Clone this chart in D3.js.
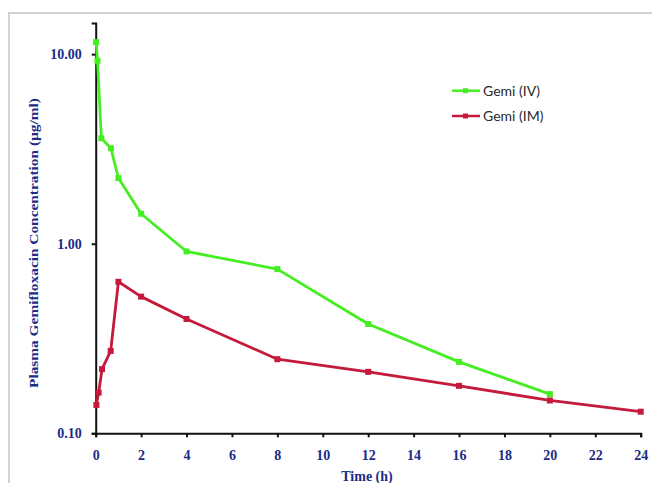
<!DOCTYPE html>
<html><head><meta charset="utf-8">
<script src="https://cdn.jsdelivr.net/npm/d3@7"></script>
<style>body{margin:0;background:#fff;}svg{display:block;}</style>
</head><body>
<svg id="c" width="652" height="483"></svg>
<script>
const ivTime = [0.02, 0.08, 0.25, 0.67, 1, 2, 4, 8, 12, 16, 20];
const ivConc = [11.57, 9.22, 3.60, 3.19, 2.22, 1.44, 0.91, 0.735, 0.377, 0.238, 0.161];
const imTime = [0.03, 0.13, 0.28, 0.66, 1, 2, 4, 8, 12, 16, 20, 24];
const imConc = [0.141, 0.164, 0.218, 0.272, 0.630, 0.526, 0.401, 0.246, 0.211, 0.178, 0.149, 0.130];
const xTicks = [0, 2, 4, 6, 8, 10, 12, 14, 16, 18, 20, 22, 24];
const yTicks = [0.1, 1, 10];
const seriesNames = ["Gemi (IV)", "Gemi (IM)"];
const seriesColors = ["#44ee22", "#c41a3c"];

const svg = d3.select("#c");
// outer frame
svg.append("rect").attr("x", 9).attr("y", 13).attr("width", 660).attr("height", 500)
  .attr("fill", "#fff").attr("stroke", "#cfd3d3").attr("stroke-width", 2);

const x = d3.scaleLinear().domain([0, 24]).range([95.7, 640.7]);
const y = d3.scaleLog().domain([0.1, 14.6]).range([433.3, 23]);

const navy = "#1c2b86";
const serif = "'Liberation Serif','Times New Roman',serif";

// x axis
const xa = svg.append("g").attr("transform", `translate(0,${y(0.1)})`)
  .call(d3.axisBottom(x).tickValues(xTicks).tickSize(4).tickPadding(13).tickFormat(d3.format("d")));
xa.select(".domain").attr("stroke", "#111").attr("stroke-width", 2);
xa.selectAll(".tick line").attr("stroke", "#111").attr("stroke-width", 2);
xa.selectAll("text").attr("fill", navy).attr("font-family", serif).attr("font-weight", "bold").attr("font-size", 14);

// y axis
const ya = svg.append("g").attr("transform", `translate(${x(0)},0)`)
  .call(d3.axisLeft(y).tickValues(yTicks).tickSize(4).tickPadding(10).tickFormat(d3.format(".2f")));
ya.select(".domain").attr("stroke", "#111").attr("stroke-width", 2);
ya.selectAll(".tick line").attr("stroke", "#111").attr("stroke-width", 2);
ya.selectAll("text").attr("fill", navy).attr("font-family", serif).attr("font-weight", "bold").attr("font-size", 14);

// titles
svg.append("text").attr("x", 367).attr("y", 481).attr("text-anchor", "middle")
  .attr("fill", navy).attr("font-family", serif).attr("font-weight", "bold").attr("font-size", 14)
  .text("Time (h)");
svg.append("text").attr("transform", "translate(38,243) rotate(-90)").attr("text-anchor", "middle")
  .attr("fill", navy).attr("font-family", serif).attr("font-weight", "bold").attr("font-size", 13)
  .attr("textLength", 290).attr("lengthAdjust", "spacingAndGlyphs")
  .text("Plasma Gemifloxacin  Concentration (µg/ml)");

const series = [
  {t: ivTime, c: ivConc, color: seriesColors[0], name: seriesNames[0]},
  {t: imTime, c: imConc, color: seriesColors[1], name: seriesNames[1]}
];
const line = d3.line().x(d => x(d[0])).y(d => y(d[1]));
series.forEach(s => {
  const pts = s.t.map((t, i) => [t, s.c[i]]);
  svg.append("path").datum(pts).attr("d", line).attr("fill", "none")
    .attr("stroke", s.color).attr("stroke-width", 2.8).attr("stroke-linejoin", "round");
  svg.selectAll(null).data(pts).enter().append("rect")
    .attr("x", d => x(d[0]) - 3).attr("y", d => y(d[1]) - 3)
    .attr("width", 6).attr("height", 6).attr("fill", s.color);
});

// legend
const leg = [90.7, 116];
series.forEach((s, i) => {
  svg.append("line").attr("x1", 452).attr("x2", 480).attr("y1", leg[i]).attr("y2", leg[i])
    .attr("stroke", s.color).attr("stroke-width", 2.5);
  svg.append("rect").attr("x", 463).attr("y", leg[i] - 2.5).attr("width", 5).attr("height", 5).attr("fill", s.color);
  svg.append("text").attr("x", 483).attr("y", leg[i] + 5).attr("fill", "#2a2a2a")
    .attr("font-family", "Lato, 'Open Sans', sans-serif").attr("font-size", 14).text(s.name);
});
</script>
</body></html>
